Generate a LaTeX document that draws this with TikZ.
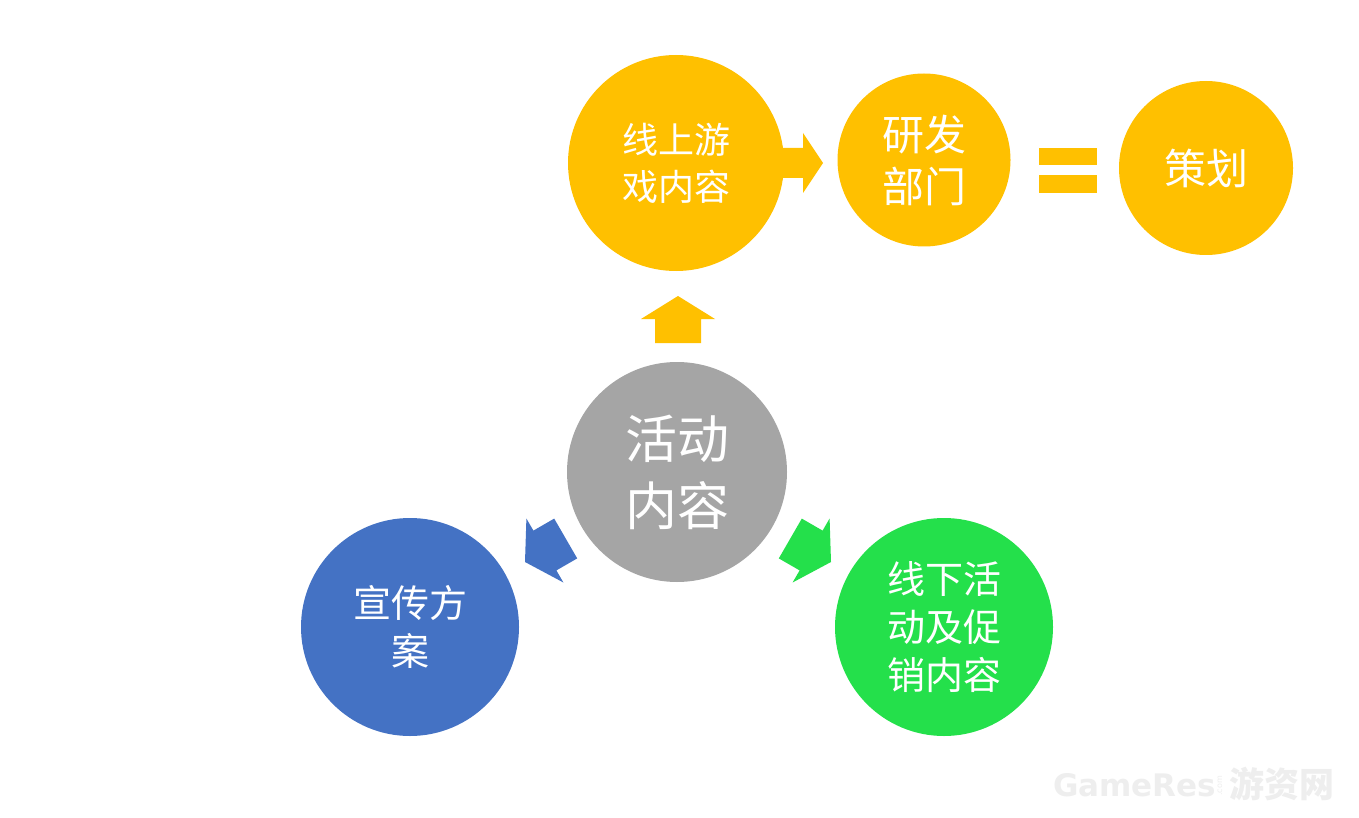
\documentclass[tikz,border=0pt]{standalone}
\usepackage{fontspec}
\setmainfont{Noto Sans CJK SC}
\newfontfamily\cjk{Noto Sans CJK SC}
\newfontfamily\wmfont{DejaVu Sans}
\definecolor{cyellow}{RGB}{255,192,0}
\definecolor{cgray}{RGB}{165,165,165}
\definecolor{cblue}{RGB}{68,114,196}
\definecolor{cgreen}{RGB}{36,224,75}
\definecolor{cwm}{RGB}{238,238,238}
\tikzset{
  bubble/.style={circle, inner sep=0pt, text=white, align=center},
  blockarrow/.style={draw=none},
}
\begin{document}
\begin{tikzpicture}[x=1pt,y=-1pt]
\useasboundingbox (0,0) rectangle (1359,818);
\fill[white] (0,0) rectangle (1359,818);

% block arrows
\fill[cyellow] (678,296) -- (715,319) -- (701,319) -- (701,343) -- (655,343) -- (655,319) -- (641,319) -- cycle;
\fill[cyellow] (823,163) -- (803,133) -- (803,148) -- (775,148) -- (775,178) -- (803,178) -- (803,193) -- cycle;
\fill[cblue] (525,562) -- (526.4,518.5) -- (533.4,530.6) -- (554.2,518.6) -- (577.2,558.4) -- (556.4,570.4) -- (563.4,582.5) -- cycle;
\fill[cgreen] (831,562) -- (829.6,518.5) -- (822.6,530.6) -- (801.8,518.6) -- (778.8,558.4) -- (799.6,570.4) -- (792.6,582.5) -- cycle;

% equals sign
\node[fill=cyellow, minimum width=58pt, minimum height=17pt, inner sep=0pt] (eqtop) at (1068,156.5) {};
\node[fill=cyellow, minimum width=58pt, minimum height=18pt, inner sep=0pt] (eqbot) at (1068,184) {};

% circles
\node[bubble, fill=cyellow, minimum size=216pt, font=\fontsize{36}{47}\selectfont] (online) at (676,163) {线上游\\戏内容};
\node[bubble, fill=cyellow, minimum size=173pt, font=\fontsize{42}{52}\selectfont] (rd) at (924,160) {研发\\部门};
\node[bubble, fill=cyellow, minimum size=174pt, font=\fontsize{42}{52}\selectfont] (plan) at (1206,168) {策划};
\node[bubble, fill=cgray, minimum size=220pt, font=\fontsize{52}{67}\selectfont] (center) at (677,472) {活动\\内容};
\node[bubble, fill=cblue, minimum size=218pt, font=\fontsize{38}{48}\selectfont] (promo) at (410,627) {宣传方\\案};
\node[bubble, fill=cgreen, minimum size=218pt, font=\fontsize{38}{48}\selectfont] (offline) at (944,627) {线下活\\动及促\\销内容};

% watermark
\node[anchor=west, inner sep=0pt, text=cwm, font=\wmfont\bfseries\fontsize{31}{31}\selectfont] (wm1) at (1053,785) {GameRes};
\node[inner sep=0pt, text=cwm, rotate=90, font=\wmfont\fontsize{8}{8}\selectfont] (wm2) at (1220,786) {.com};
\node[anchor=west, inner sep=0pt, text=cwm, font=\cjk\bfseries\fontsize{35}{35}\selectfont] (wm3) at (1229,784) {游资网};
\end{tikzpicture}
\end{document}
